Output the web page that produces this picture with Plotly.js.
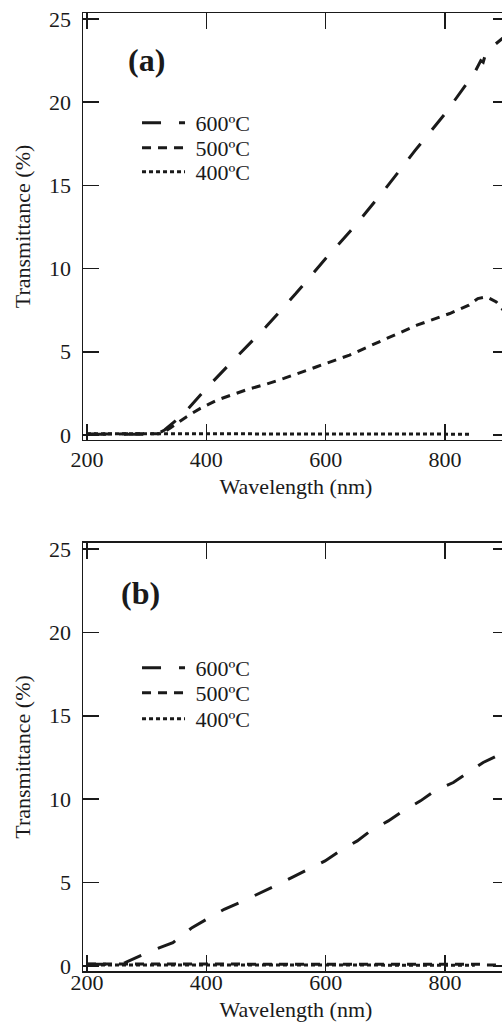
<!DOCTYPE html>
<html>
<head>
<meta charset="utf-8">
<script src="https://cdn.plot.ly/plotly-3.0.1.min.js"></script>
<style>
html,body{margin:0;padding:0;overflow:hidden;background:#fff;}
#chart{width:517px;height:1034px;}
</style>
</head>
<body>
<div id="chart"></div>
<script>
// Panel (a)
const wl600a = [200, 250, 300, 320, 330, 360, 400, 440, 500, 550, 600, 650, 700, 750, 800, 850, 860, 864, 868, 875, 895, 905];
const t600a  = [0.05, 0.05, 0.05, 0.1, 0.3, 1.2, 2.8, 4.3, 6.5, 8.5, 10.6, 12.6, 14.8, 17.1, 19.3, 21.8, 22.5, 22.4, 22.9, 23.2, 23.8, 24.1];
const wl500a = [200, 250, 300, 320, 330, 339, 367, 390, 418, 445, 470, 500, 530, 585, 640, 696, 753, 808, 840, 855, 870, 886, 905];
const t500a  = [0.05, 0.05, 0.05, 0.08, 0.2, 0.4, 1.1, 1.6, 2.1, 2.45, 2.75, 3.05, 3.4, 4.1, 4.8, 5.7, 6.6, 7.3, 7.8, 8.2, 8.3, 8.0, 7.2];
const wl400a = [200, 300, 400, 500, 600, 700, 800, 845];
const t400a  = [0.08, 0.08, 0.06, 0.05, 0.05, 0.05, 0.05, 0.05];
// Panel (b)
const wl600b = [200, 250, 264, 292, 322, 344, 376, 401, 430, 456, 487, 515, 543, 571, 599, 624, 653, 675, 705, 730, 759, 783, 814, 839, 864, 887, 905];
const t600b  = [0.1, 0.1, 0.2, 0.66, 1.1, 1.4, 2.3, 2.8, 3.4, 3.8, 4.3, 4.8, 5.3, 5.8, 6.3, 6.9, 7.5, 8.1, 8.7, 9.3, 9.9, 10.5, 11.0, 11.6, 12.2, 12.6, 13.0];
const wl500b = [200, 300, 400, 500, 600, 700, 800, 860, 870, 880, 905];
const t500b  = [0.12, 0.12, 0.12, 0.12, 0.12, 0.12, 0.12, 0.1, 0.06, 0.05, 0.05];
const wl400b = [200, 300, 400, 500, 600, 700, 800, 850];
const t400b  = [0.06, 0.06, 0.05, 0.05, 0.05, 0.05, 0.05, 0.05];

const seriesNames = ['600ºC', '500ºC', '400ºC'];
const xTicks = [200, 400, 600, 800];
const yTicks = [0, 5, 10, 15, 20, 25];

const ink = '#1a1a1a';
const dashes = ['19px,18px', '9px,7px', '4px,3px'];
const serif = 'Liberation Serif';

function tr(x, y, i, xa, ya, leg) {
  return {x: x, y: y, type: 'scatter', mode: 'lines', name: ' ' + seriesNames[i],
    xaxis: xa, yaxis: ya, legend: leg,
    line: {color: ink, width: 3, dash: dashes[i]}};
}
const data = [
  tr(wl600a, t600a, 0, 'x', 'y', 'legend'),
  tr(wl500a, t500a, 1, 'x', 'y', 'legend2'),
  tr(wl400a, t400a, 2, 'x', 'y', 'legend3'),
  tr(wl600b, t600b, 0, 'x2', 'y2', 'legend4'),
  tr(wl500b, t500b, 1, 'x2', 'y2', 'legend5'),
  tr(wl400b, t400b, 2, 'x2', 'y2', 'legend6')
];

function xax(anchor, lblOff) {
  return {domain: [0, 1], anchor: anchor, range: [193.3, 907.3], tickvals: xTicks,
    ticks: 'inside', ticklen: 16, tickwidth: 1.5, tickcolor: ink,
    showline: true, linewidth: 1.5, linecolor: ink, mirror: 'ticks',
    showgrid: false, zeroline: false, ticklabelstandoff: lblOff,
    tickfont: {family: serif, size: 22, color: ink},
    title: {text: 'Wavelength (nm)', font: {family: serif, size: 22, color: ink}, standoff: 7}};
}
function yax(dom, anchor) {
  return {domain: dom, anchor: anchor, range: [-0.3, 25.36], tickvals: yTicks,
    ticks: 'inside', ticklen: 16, tickwidth: 1.5, tickcolor: ink,
    showline: true, linewidth: 1.5, linecolor: ink, mirror: 'ticks',
    showgrid: false, zeroline: false, ticklabelstandoff: 6,
    tickfont: {family: serif, size: 22, color: ink},
    title: {text: 'Transmittance (%)', font: {family: serif, size: 22, color: ink}, standoff: 12}};
}

const legFont = {family: serif, size: 22, color: ink};
function leg(yc) {
  return {x: 0.1268, y: yc, xanchor: 'left', yanchor: 'middle', bgcolor: 'rgba(0,0,0,0)',
    font: legFont, itemwidth: 43, tracegroupgap: 0, borderwidth: 0};
}
const layout = {
  width: 517, height: 1034,
  margin: {l: 83, r: 8, t: 13, b: 63},
  paper_bgcolor: '#fff', plot_bgcolor: '#fff',
  showlegend: true,
  xaxis: xax('y', -1),
  yaxis: yax([0.5543, 1], 'x'),
  xaxis2: xax('y2', -9),
  yaxis2: yax([0, 0.4468], 'x2'),
  legend: leg(0.8852),
  legend2: leg(0.8591),
  legend3: leg(0.8340),
  legend4: leg(0.3163),
  legend5: leg(0.2902),
  legend6: leg(0.2630),
  annotations: [
    {text: '<b>(a)</b>', xref: 'paper', yref: 'paper', x: 0.150, y: 0.9505, showarrow: false,
      xanchor: 'center', yanchor: 'middle', font: {family: serif, size: 32, color: ink}},
    {text: '<b>(b)</b>', xref: 'paper', yref: 'paper', x: 0.136, y: 0.3950, showarrow: false,
      xanchor: 'center', yanchor: 'middle', font: {family: serif, size: 32, color: ink}}
  ]
};
Plotly.newPlot('chart', data, layout, {staticPlot: true, displayModeBar: false});
</script>
</body>
</html>
